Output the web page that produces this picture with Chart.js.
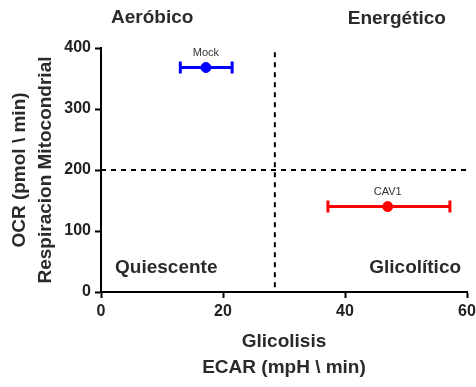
<!DOCTYPE html>
<html>
<head>
  <meta charset="utf-8">
  <title>Fenotipo energético</title>
  <script src="https://cdn.jsdelivr.net/npm/chart.js"></script>
  <style>
    html, body {
      margin: 0;
      padding: 0;
      background: white;
    }
    #wrap {
      width: 476px;
      height: 387px;
    }
  </style>
</head>
<body>

<div id="wrap">
  <canvas id="phenoChart" width="476" height="387"></canvas>
</div>

<script>
  const groups = ['Mock', 'CAV1'];
  const ecar = [17.2, 47.0];
  const ocr = [368, 140];
  const ecarLow = [13.0, 37.2];
  const ecarHigh = [21.5, 57.2];
  const colors = ['#0000ff', '#ff0000'];

  const xTicks = [0, 20, 40, 60];
  const yTicks = [0, 100, 200, 300, 400];
  const splitX = 28.5;
  const splitY = 200;
  const quadrants = ['Aeróbico', 'Energético', 'Quiescente', 'Glicolítico'];

  const font = "'Liberation Sans', Arial, sans-serif";

  const quadrantPlugin = {
    id: 'quadrants',
    beforeDatasetsDraw(chart) {
      const ctx = chart.ctx;
      const x = chart.scales.x, y = chart.scales.y;
      ctx.save();
      ctx.strokeStyle = '#000';
      ctx.lineWidth = 2;
      ctx.setLineDash([5, 5]);
      ctx.beginPath();
      ctx.moveTo(x.getPixelForValue(splitX), y.getPixelForValue(393));
      ctx.lineTo(x.getPixelForValue(splitX), y.getPixelForValue(0));
      ctx.moveTo(x.getPixelForValue(0), y.getPixelForValue(splitY));
      ctx.lineTo(x.getPixelForValue(60), y.getPixelForValue(splitY));
      ctx.stroke();
      ctx.setLineDash([]);

      // quadrant names
      ctx.fillStyle = '#2a2a2a';
      ctx.font = 'bold 19px ' + font;
      ctx.textAlign = 'center';
      ctx.textBaseline = 'middle';
      const top = chart.chartArea.top - 30;
      const bottom = y.getPixelForValue(0) - 24;
      ctx.fillText(quadrants[0], x.getPixelForValue(8.4), top);
      ctx.fillText(quadrants[1], x.getPixelForValue(48.5), top + 1);
      ctx.fillText(quadrants[2], x.getPixelForValue(10.7), bottom);
      ctx.fillText(quadrants[3], x.getPixelForValue(51.5), bottom);
      ctx.restore();
    },
    afterDatasetsDraw(chart) {
      const ctx = chart.ctx;
      const x = chart.scales.x, y = chart.scales.y;
      ctx.save();
      groups.forEach((g, i) => {
        const py = y.getPixelForValue(ocr[i]);
        const x0 = x.getPixelForValue(ecarLow[i]);
        const x1 = x.getPixelForValue(ecarHigh[i]);
        ctx.strokeStyle = colors[i];
        ctx.lineWidth = 3;
        ctx.beginPath();
        ctx.moveTo(x0, py);
        ctx.lineTo(x1, py);
        ctx.moveTo(x0, py - 6);
        ctx.lineTo(x0, py + 6);
        ctx.moveTo(x1, py - 6);
        ctx.lineTo(x1, py + 6);
        ctx.stroke();
        ctx.fillStyle = '#333';
        ctx.font = '11px ' + font;
        ctx.textAlign = 'center';
        ctx.textBaseline = 'bottom';
        ctx.fillText(g, x.getPixelForValue(ecar[i]), py - 9);
      });
      ctx.restore();
    }
  };

  const ctx = document.getElementById('phenoChart').getContext('2d');
  new Chart(ctx, {
    type: 'scatter',
    data: {
      datasets: groups.map((g, i) => ({
        label: g,
        data: [{ x: ecar[i], y: ocr[i] }],
        backgroundColor: colors[i],
        borderColor: colors[i],
        pointRadius: 5,
        pointHoverRadius: 5
      }))
    },
    options: {
      responsive: false,
      animation: false,
      layout: { padding: { top: 48, right: 0, left: 7, bottom: 4 } },
      plugins: {
        legend: { display: false },
        tooltip: { enabled: false }
      },
      scales: {
        x: {
          type: 'linear',
          min: 0,
          max: 60,
          afterBuildTicks: s => { s.ticks = xTicks.map(v => ({ value: v })); },
          afterFit: s => { s.height = 91; s.paddingRight = 9; },
          border: { color: '#000', width: 2 },
          grid: { drawOnChartArea: false, tickLength: 6, tickColor: '#000', tickWidth: 2 },
          ticks: { color: '#222', font: { family: font, size: 16, weight: 'bold' }, padding: 4 },
          title: {
            display: true,
            text: ['Glicolisis', 'ECAR (mpH \\ min)'],
            color: '#2a2a2a',
            font: { family: font, size: 19, weight: 'bold', lineHeight: 1.37 },
            padding: { top: 0, bottom: 2 }
          }
        },
        y: {
          type: 'linear',
          min: 0,
          max: 400,
          afterBuildTicks: s => { s.ticks = yTicks.map(v => ({ value: v })); },
          afterFit: s => { s.width = 94; },
          border: { color: '#000', width: 2 },
          grid: { drawOnChartArea: false, tickLength: 6, tickColor: '#000', tickWidth: 2 },
          ticks: { color: '#222', font: { family: font, size: 16, weight: 'bold' }, padding: 4 },
          title: {
            display: true,
            text: ['OCR (pmol \\ min)', 'Respiracion Mitocondrial'],
            color: '#2a2a2a',
            font: { family: font, size: 19, weight: 'bold', lineHeight: 1.37 },
            padding: { top: 0, bottom: 0 }
          }
        }
      }
    },
    plugins: [quadrantPlugin]
  });
</script>

</body>
</html>
